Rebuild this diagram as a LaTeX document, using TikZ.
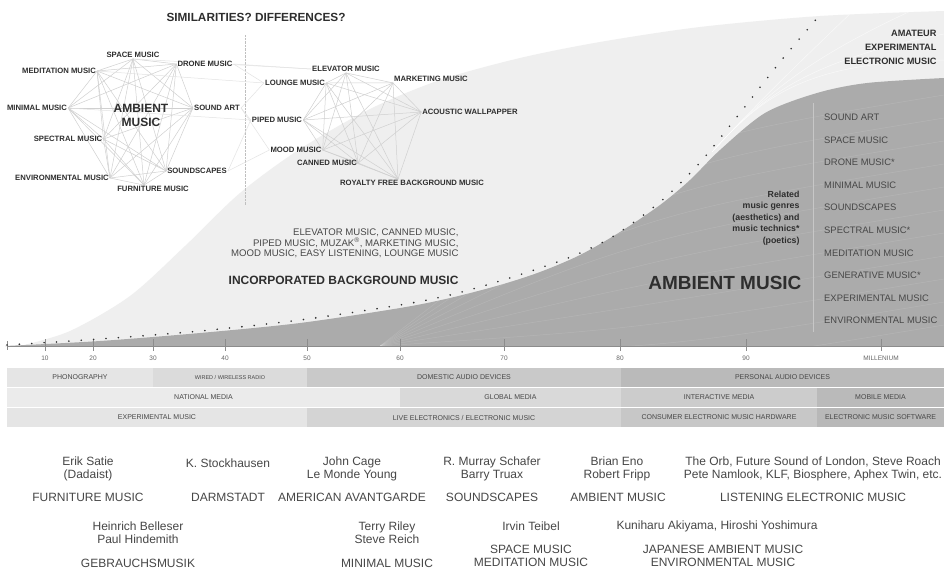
\documentclass[tikz,border=0pt]{standalone}
\usepackage{fontspec}
\setmainfont{Liberation Sans}
\usetikzlibrary{calc}
\pgfdeclarelayer{back}
\pgfdeclarelayer{webs}
\pgfsetlayers{back,webs,main}

\definecolor{paper}{HTML}{FFFFFF}
\definecolor{lightarea}{HTML}{EFEFEF}
\definecolor{darkarea}{HTML}{ABABAB}
\definecolor{ink}{HTML}{2E2E2E}
\definecolor{softink}{HTML}{474747}
\definecolor{webline}{HTML}{D0D0D0}

\tikzstyle{net}=[font=\bfseries\fontsize{7.7}{9}\selectfont, text=ink, inner sep=1pt]
\tikzstyle{web}=[draw=webline, line width=0.5pt]
\tikzstyle{band}=[rectangle, minimum height=19pt, inner sep=0pt, font=\fontsize{7}{8}\selectfont, text=softink, anchor=center]
\tikzstyle{yeartick}=[draw=black!45, line width=0.5pt]
\tikzstyle{year}=[font=\fontsize{6.5}{7}\selectfont, text=black!60]
\tikzstyle{who}=[align=center, font=\fontsize{12}{13.5}\selectfont, text=softink, inner sep=0pt]
\tikzstyle{genre}=[font=\fontsize{9.4}{10}\selectfont, text=softink, anchor=west, inner sep=0pt]

\newcommand{\drawbands}[0]
{
  % devices
  \node[band, minimum width=146pt, fill=black!10](phono) at (80,377.5){PHONOGRAPHY};
  \node[band, minimum width=154pt, fill=black!14, font=\fontsize{5.5}{6}\selectfont](radio) at (230,377.5){WIRED / WIRELESS RADIO};
  \node[band, minimum width=314pt, fill=black!21](domestic) at (464,377.5){DOMESTIC AUDIO DEVICES};
  \node[band, minimum width=323pt, fill=black!27](personal) at (782.5,377.5){PERSONAL AUDIO DEVICES};
  % media
  \node[band, minimum width=393pt, fill=black!8](national) at (203.5,397.5){NATIONAL MEDIA};
  \node[band, minimum width=221pt, fill=black!15](global) at (510.5,397.5){GLOBAL MEDIA};
  \node[band, minimum width=196pt, fill=black!20](interactive) at (719,397.5){INTERACTIVE MEDIA};
  \node[band, minimum width=127pt, fill=black!27](mobile) at (880.5,397.5){MOBILE MEDIA};
  % music
  \node[band, minimum width=300pt, fill=black!10](expmusic) at (157,417.5){EXPERIMENTAL MUSIC};
  \node[band, minimum width=314pt, fill=black!17](live) at (464,417.5){LIVE ELECTRONICS / ELECTRONIC MUSIC};
  \node[band, minimum width=196pt, fill=black!22](hardware) at (719,417.5){CONSUMER ELECTRONIC MUSIC HARDWARE};
  \node[band, minimum width=127pt, fill=black!28](software) at (880.5,417.5){ELECTRONIC MUSIC SOFTWARE};
}

\begin{document}
\begin{tikzpicture}[x=1pt, y=-1pt]
	\useasboundingbox (0,0) rectangle (944,571);

	\begin{pgfonlayer}{back}
	\fill[paper] (0,0) rectangle (944,571);
	% incorporated background music
	\fill[lightarea] plot[smooth] coordinates {(20,346) (70,331) (130,296) (185,246) (240,193) (300,149) (370,109) (440,80) (520,58) (600,42) (700,27) (820,16) (944,11)} -- (944,346) -- cycle;
	\foreach \tx/\ty in {855/9, 915/9, 944/34, 944/60}
		\draw[white, opacity=0.6, line width=0.5pt] (712,152) .. controls (760,100) and (800,62) .. (\tx,\ty);
	% ambient music
	\fill[darkarea] plot[smooth] coordinates {(5,346) (100,341) (200,333) (300,323) (400,308) (450,298) (500,285) (540,272) (580,255) (620,232) (660,205) (690,180) (720,150) (765,113) (817,93) (867,83) (944,78)} -- (944,346) -- cycle;
	\begin{scope}
		\clip plot[smooth] coordinates {(5,346) (100,341) (200,333) (300,323) (400,308) (450,298) (500,285) (540,272) (580,255) (620,232) (660,205) (690,180) (720,150) (765,113) (817,93) (867,83) (944,78)} -- (944,346) -- cycle;
		\foreach \y in {95,118,...,325}
			\draw[white, opacity=0.13, line width=0.5pt] (380,346) .. controls (640,\y+50) .. (944,\y);
	\end{scope}
	\draw[black!22, line width=0.6pt] (813,103) -- (813,332);
	%\draw[black!30, dotted] (245,35) -- (245,205);
	\draw[black!25, densely dotted] (245,35) -- (245,205);
	\end{pgfonlayer}

	% timeline
	\draw[black!45, line width=0.5pt] (7,346) -- (944,346);
	\draw[yeartick] (7,341) -- (7,350);
	\foreach \x/\t [count=\i] in {45/10,93/20,153/30,225/40,307/50,400/60,504/70,620/80,746/90,881/MILLENIUM}
	{
		\draw[yeartick] (\x,339) -- (\x,351);
		\node[year] (year\i) at (\x,358) {\t};
	}
	\draw[ink, line width=1.8pt, line cap=round, dash pattern=on 0pt off 12.4pt] plot[smooth] coordinates {(7,345) (100,339) (200,331) (300,320) (400,305) (450,295) (500,281) (540,268) (573,256) (607,240) (637,220) (667,196) (693,170) (709,152) (740,113) (780,62) (819,16)};

	\drawbands{}

	% similarities
	\node[font=\bfseries\fontsize{11.8}{14}\selectfont, text=ink] (question) at (256,17) {SIMILARITIES? DIFFERENCES?};
	\node[net] (space) at (133,55) {SPACE MUSIC};
	\node[net] (meditation) at (59,71) {MEDITATION MUSIC};
	\node[net] (drone) at (205,64) {DRONE MUSIC};
	\node[net] (minimal) at (37,108) {MINIMAL MUSIC};
	\node[net, align=center, font=\bfseries\fontsize{12}{14}\selectfont] (ambient) at (141,115) {AMBIENT\\MUSIC};
	\node[net] (soundart) at (217,108) {SOUND ART};
	\node[net] (spectral) at (68,139) {SPECTRAL MUSIC};
	\node[net] (soundscapes) at (197,171) {SOUNDSCAPES};
	\node[net] (environmental) at (62,178) {ENVIRONMENTAL MUSIC};
	\node[net] (furniture) at (153,189) {FURNITURE MUSIC};
	\coordinate (furnitureP) at ($(furniture.north)+(-9,0)$);

	\node[net] (elevator) at (346,69) {ELEVATOR MUSIC};
	\node[net] (lounge) at (295,83) {LOUNGE MUSIC};
	\node[net] (marketing) at (431,79) {MARKETING MUSIC};
	\node[net] (acoustic) at (470,112) {ACOUSTIC WALLPAPPER};
	\node[net] (piped) at (277,120) {PIPED MUSIC};
	\node[net] (mood) at (296,150) {MOOD MUSIC};
	\node[net] (canned) at (327,163) {CANNED MUSIC};
	\node[net] (royalty) at (412,183) {ROYALTY FREE BACKGROUND MUSIC};
	\coordinate (royaltyP) at ($(royalty.north)+(-14,0)$);

	\begin{pgfonlayer}{webs}
	\foreach \a [count=\i] in {meditation.east,space.south,drone.west,minimal.east,soundart.west,spectral.east,soundscapes.west,environmental.east,furnitureP}
		\foreach \b [count=\j] in {meditation.east,space.south,drone.west,minimal.east,soundart.west,spectral.east,soundscapes.west,environmental.east,furnitureP}
			{\ifnum\j>\i \draw[web] (\a) -- (\b); \fi}
	\foreach \a [count=\i] in {elevator.south,lounge.east,marketing.south west,acoustic.west,piped.east,mood.east,canned.east,royaltyP}
		\foreach \b [count=\j] in {elevator.south,lounge.east,marketing.south west,acoustic.west,piped.east,mood.east,canned.east,royaltyP}
			{\ifnum\j>\i \draw[web] (\a) -- (\b); \fi}
	\foreach \a/\b in {meditation.east/lounge.west, space.south/elevator.west, drone.east/elevator.west, drone.east/lounge.west, soundart.east/lounge.west, soundart.east/piped.west, soundart.east/mood.west, soundscapes.east/mood.west, soundscapes.east/piped.west, minimal.east/piped.west}
		\draw[web, draw=webline!60] (\a) -- (\b);
	\end{pgfonlayer}

	% incorporated background music
	\node[align=right, anchor=east, font=\fontsize{9.6}{10.7}\selectfont, text=softink] (bgmlist) at (462,243.5) {ELEVATOR MUSIC, CANNED MUSIC,\\PIPED MUSIC, MUZAK\textsuperscript{®}, MARKETING MUSIC,\\MOOD MUSIC, EASY LISTENING, LOUNGE MUSIC};
	\node[anchor=east, font=\bfseries\fontsize{12}{14}\selectfont, text=ink] (incorporated) at (462,280) {INCORPORATED BACKGROUND MUSIC};

	% ambient music
	\node[align=right, anchor=east, font=\bfseries\fontsize{9.2}{14}\selectfont, text=ink] (amateur) at (940,47) {AMATEUR\\EXPERIMENTAL\\ELECTRONIC MUSIC};
	\node[align=right, anchor=east, font=\bfseries\fontsize{8.8}{11.5}\selectfont, text=ink] (related) at (803,218) {Related\\music genres\\(aesthetics) and\\music technics*\\(poetics)};
	\node[anchor=east, font=\bfseries\fontsize{19}{22}\selectfont, text=ink] (ambientbig) at (805,283) {AMBIENT MUSIC};
	\foreach \g [count=\i] in {SOUND ART, SPACE MUSIC, DRONE MUSIC*, MINIMAL MUSIC, SOUNDSCAPES, SPECTRAL MUSIC*, MEDITATION MUSIC, GENERATIVE MUSIC*, EXPERIMENTAL MUSIC, ENVIRONMENTAL MUSIC}
		\node[genre] (genre\i) at (824,94.6+22.6*\i) {\g};

	% people and genres
	\node[who] (satie) at (88,469) {Erik Satie\\(Dadaist)};
	\node[who] (stockhausen) at (228,463) {K. Stockhausen};
	\node[who] (cage) at (352,469) {John Cage\\Le Monde Young};
	\node[who] (schafer) at (492,469) {R. Murray Schafer\\Barry Truax};
	\node[who] (eno) at (617,469) {Brian Eno\\Robert Fripp};
	\node[who] (orb) at (813,469) {The Orb, Future Sound of London, Steve Roach\\Pete Namlook, KLF, Biosphere, Aphex Twin, etc.};

	\node[who] (furnituremusic) at (88,497) {FURNITURE MUSIC};
	\node[who] (darmstadt) at (228,497) {DARMSTADT};
	\node[who] (avantgarde) at (352,497) {AMERICAN AVANTGARDE};
	\node[who] (soundscapesmusic) at (492,497) {SOUNDSCAPES};
	\node[who] (ambientmusic) at (618,497) {AMBIENT MUSIC};
	\node[who] (listening) at (813,497) {LISTENING ELECTRONIC MUSIC};

	\node[who] (belleser) at (138,532.5) {Heinrich Belleser\\Paul Hindemith};
	\node[who] (riley) at (387,532.5) {Terry Riley\\Steve Reich};
	\node[who] (teibel) at (531,526) {Irvin Teibel};
	\node[who] (akiyama) at (717,526) {Kuniharu Akiyama, Hiroshi Yoshimura};

	\node[who] (gebrauchsmusik) at (138,563) {GEBRAUCHSMUSIK};
	\node[who] (minimalmusic) at (387,563) {MINIMAL MUSIC};
	\node[who] (spacemusic) at (531,556) {SPACE MUSIC\\MEDITATION MUSIC};
	\node[who] (japanese) at (723,556) {JAPANESE AMBIENT MUSIC\\ENVIRONMENTAL MUSIC};

\end{tikzpicture}
\end{document}
